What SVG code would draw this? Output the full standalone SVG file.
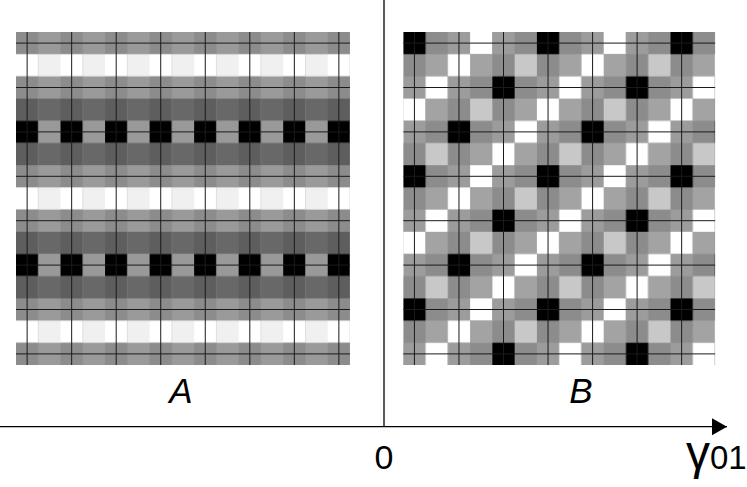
<svg xmlns="http://www.w3.org/2000/svg" width="747" height="487" viewBox="0 0 747 487">
<style>
.grid line{stroke:#1a1a1a;stroke-width:1}
.axis{stroke:#000;stroke-width:1.3;fill:none}
.lbl{font-family:"Liberation Sans",Arial,sans-serif;fill:#000}
</style>
<defs>
<pattern id="patA" patternUnits="userSpaceOnUse" x="16" y="32" width="44.533" height="133.2">
<rect x="0" y="0" width="44.533" height="133.2" fill="#9a9a9a"/>
<rect x="0" y="0" width="22.267" height="22.2" fill="#8c8c8c"/>
<rect x="0" y="22.2" width="22.267" height="22.2" fill="#ffffff"/>
<rect x="22.267" y="22.2" width="22.267" height="22.2" fill="#f0f0f0"/>
<rect x="0" y="44.4" width="22.267" height="22.2" fill="#8c8c8c"/>
<rect x="0" y="66.6" width="22.267" height="22.2" fill="#5e5e5e"/>
<rect x="22.267" y="66.6" width="22.267" height="22.2" fill="#686868"/>
<rect x="0" y="88.8" width="22.267" height="22.2" fill="#000000"/>
<rect x="22.267" y="88.8" width="22.267" height="22.2" fill="#999999"/>
<rect x="0" y="111" width="22.267" height="22.2" fill="#5e5e5e"/>
<rect x="22.267" y="111" width="22.267" height="22.2" fill="#686868"/>
</pattern>
<pattern id="patB" patternUnits="userSpaceOnUse" x="403.3" y="32" width="133.6" height="133.2">
<rect x="0" y="0" width="133.6" height="133.2" fill="#8c8c8c"/>
<rect x="0" y="0" width="22.267" height="22.2" fill="#000"/>
<rect x="44.533" y="0" width="22.267" height="22.2" fill="#9c9c9c"/>
<rect x="66.8" y="0" width="22.267" height="22.2" fill="#fff"/>
<rect x="89.067" y="0" width="22.267" height="22.2" fill="#9c9c9c"/>
<rect x="22.267" y="22.2" width="22.267" height="22.2" fill="#a3a3a3"/>
<rect x="44.533" y="22.2" width="22.267" height="22.2" fill="#fff"/>
<rect x="66.8" y="22.2" width="22.267" height="22.2" fill="#a3a3a3"/>
<rect x="111.333" y="22.2" width="22.267" height="22.2" fill="#c8c8c8"/>
<rect x="0" y="44.4" width="22.267" height="22.2" fill="#9c9c9c"/>
<rect x="22.267" y="44.4" width="22.267" height="22.2" fill="#fff"/>
<rect x="44.533" y="44.4" width="22.267" height="22.2" fill="#9c9c9c"/>
<rect x="89.067" y="44.4" width="22.267" height="22.2" fill="#000"/>
<rect x="0" y="66.6" width="22.267" height="22.2" fill="#fff"/>
<rect x="22.267" y="66.6" width="22.267" height="22.2" fill="#a3a3a3"/>
<rect x="66.8" y="66.6" width="22.267" height="22.2" fill="#c8c8c8"/>
<rect x="111.333" y="66.6" width="22.267" height="22.2" fill="#a3a3a3"/>
<rect x="0" y="88.8" width="22.267" height="22.2" fill="#9c9c9c"/>
<rect x="44.533" y="88.8" width="22.267" height="22.2" fill="#000"/>
<rect x="89.067" y="88.8" width="22.267" height="22.2" fill="#9c9c9c"/>
<rect x="111.333" y="88.8" width="22.267" height="22.2" fill="#fff"/>
<rect x="22.267" y="111" width="22.267" height="22.2" fill="#c8c8c8"/>
<rect x="66.8" y="111" width="22.267" height="22.2" fill="#a3a3a3"/>
<rect x="89.067" y="111" width="22.267" height="22.2" fill="#fff"/>
<rect x="111.333" y="111" width="22.267" height="22.2" fill="#a3a3a3"/>
</pattern>
<marker id="arrow" markerUnits="userSpaceOnUse" markerWidth="16" markerHeight="18" refX="15" refY="8.5" orient="auto">
<path d="M0,0 L15,8.5 L0,17 Z" fill="#000"/>
</marker>
</defs>

<g id="panelA">
<rect x="16" y="32" width="334" height="333" fill="url(#patA)"/>
<g class="grid">
<line x1="27.13" y1="32" x2="27.13" y2="365"/>
<line x1="71.67" y1="32" x2="71.67" y2="365"/>
<line x1="116.2" y1="32" x2="116.2" y2="365"/>
<line x1="160.73" y1="32" x2="160.73" y2="365"/>
<line x1="205.27" y1="32" x2="205.27" y2="365"/>
<line x1="249.8" y1="32" x2="249.8" y2="365"/>
<line x1="294.33" y1="32" x2="294.33" y2="365"/>
<line x1="338.87" y1="32" x2="338.87" y2="365"/>
<line x1="16" y1="43.1" x2="350" y2="43.1"/>
<line x1="16" y1="87.5" x2="350" y2="87.5"/>
<line x1="16" y1="131.9" x2="350" y2="131.9"/>
<line x1="16" y1="176.3" x2="350" y2="176.3"/>
<line x1="16" y1="220.7" x2="350" y2="220.7"/>
<line x1="16" y1="265.1" x2="350" y2="265.1"/>
<line x1="16" y1="309.5" x2="350" y2="309.5"/>
<line x1="16" y1="353.9" x2="350" y2="353.9"/>
</g>
</g>

<g id="panelB">
<rect x="403.3" y="32" width="311.8" height="333" fill="url(#patB)"/>
<g class="grid">
<line x1="414.43" y1="32" x2="414.43" y2="365"/>
<line x1="458.97" y1="32" x2="458.97" y2="365"/>
<line x1="503.5" y1="32" x2="503.5" y2="365"/>
<line x1="548.04" y1="32" x2="548.04" y2="365"/>
<line x1="592.58" y1="32" x2="592.58" y2="365"/>
<line x1="637.1" y1="32" x2="637.1" y2="365"/>
<line x1="681.65" y1="32" x2="681.65" y2="365"/>
<line x1="403.3" y1="43.1" x2="715.1" y2="43.1"/>
<line x1="403.3" y1="87.5" x2="715.1" y2="87.5"/>
<line x1="403.3" y1="131.9" x2="715.1" y2="131.9"/>
<line x1="403.3" y1="176.3" x2="715.1" y2="176.3"/>
<line x1="403.3" y1="220.7" x2="715.1" y2="220.7"/>
<line x1="403.3" y1="265.1" x2="715.1" y2="265.1"/>
<line x1="403.3" y1="309.5" x2="715.1" y2="309.5"/>
<line x1="403.3" y1="353.9" x2="715.1" y2="353.9"/>
</g>
</g>

<g id="connectors">
<line class="axis" x1="384" y1="0" x2="384" y2="427"/>
<line class="axis" x1="0" y1="426.7" x2="727" y2="426.7" marker-end="url(#arrow)"/>
</g>

<g id="labels">
<text class="lbl" x="181" y="403" font-size="35" font-style="italic" text-anchor="middle">A</text>
<text class="lbl" x="581" y="403" font-size="35" font-style="italic" text-anchor="middle">B</text>
<text class="lbl" x="384" y="469" font-size="34" text-anchor="middle">0</text>
<text class="lbl" x="686" y="469" font-size="33"><tspan font-size="48">γ</tspan>01</text>
</g>
</svg>
